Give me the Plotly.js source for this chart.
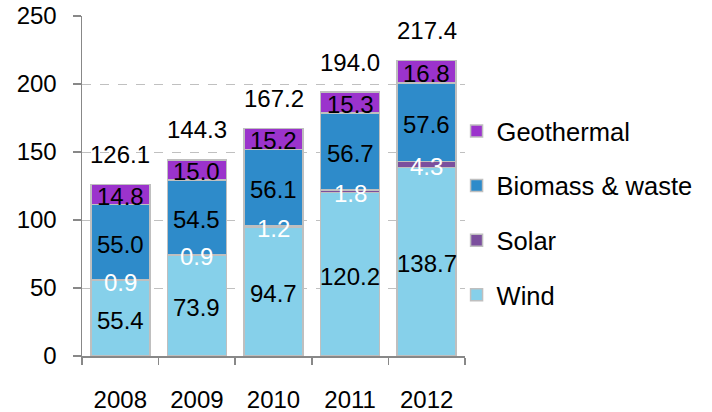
<!DOCTYPE html>
<html>
<head>
<meta charset="utf-8">
<script src="https://cdn.plot.ly/plotly-3.0.1.min.js"></script>
<style>html,body{margin:0;padding:0;background:#fff;}#chart{width:712px;height:412px;}</style>
</head>
<body>
<div id="chart"></div>
<script>
const years = ['2008', '2009', '2010', '2011', '2012'];
const wind = [55.4, 73.9, 94.7, 120.2, 138.7];
const solar = [0.9, 0.9, 1.2, 1.8, 4.3];
const biomass = [55.0, 54.5, 56.1, 56.7, 57.6];
const geothermal = [14.8, 15.0, 15.2, 15.3, 16.8];
const totals = [126.1, 144.3, 167.2, 194.0, 217.4];

const FONT = 'Liberation Sans, Arial, sans-serif';
const border = {color: '#BFBFBF', width: 1.5};

const seriesList = [
  {name: 'Wind', values: wind, color: '#86D0EA', label: '#000000'},
  {name: 'Solar', values: solar, color: '#7B4F9D', label: '#FFFFFF'},
  {name: 'Biomass & waste', values: biomass, color: '#2E8BCA', label: '#000000'},
  {name: 'Geothermal', values: geothermal, color: '#9B33CC', label: '#000000'}
];

const traces = seriesList.map((s, i) => ({
  type: 'bar',
  name: s.name,
  x: years,
  y: s.values,
  marker: {color: s.color, line: border},
  legendgroup: 'g' + i,
  legendrank: 1000 - i,
  hoverinfo: 'skip'
}));

const annotations = [];
const base = years.map(() => 0);
seriesList.forEach(s => {
  s.values.forEach((v, j) => {
    annotations.push({
      x: j, y: base[j] + v / 2, xref: 'x', yref: 'y',
      text: v.toFixed(1), showarrow: false, yshift: -2,
      font: {family: FONT, size: 24, color: s.label}
    });
    base[j] += v;
  });
});
totals.forEach((t, j) => {
  annotations.push({
    x: j, y: t, xref: 'x', yref: 'y',
    text: t.toFixed(1), showarrow: false, yshift: 30,
    font: {family: FONT, size: 24, color: '#000000'}
  });
});

const layout = {
  width: 712, height: 412,
  margin: {l: 82, r: 247, t: 16, b: 56},
  paper_bgcolor: '#ffffff', plot_bgcolor: '#ffffff',
  barmode: 'stack', bargap: 0.23,
  font: {family: FONT, size: 24, color: '#000000'},
  showlegend: true,
  legend: {
    x: 0.978, xanchor: 'left', y: 0.73, yanchor: 'top',
    traceorder: 'grouped', tracegroupgap: 18.5,
    font: {family: FONT, size: 25.5, color: '#000000'},
    bgcolor: 'rgba(0,0,0,0)'
  },
  xaxis: {
    type: 'category', range: [-0.5, years.length - 0.5],
    showline: true, linecolor: '#888888', linewidth: 1.5,
    ticks: 'outside', tickson: 'boundaries', ticklen: 7, tickcolor: '#888888', tickwidth: 1.5,
    ticklabelstandoff: 22, tickangle: 0,
    showgrid: false, zeroline: false
  },
  yaxis: {
    range: [0, 250], dtick: 50,
    showline: true, linecolor: '#888888', linewidth: 1.5,
    ticks: 'outside', ticklen: 8, tickcolor: '#888888', tickwidth: 1.5,
    ticklabelstandoff: 11,
    showgrid: true, gridcolor: '#C0C0C0', griddash: 'dash', gridwidth: 1,
    zeroline: false
  },
  annotations: annotations
};

Plotly.newPlot('chart', traces, layout, {displayModeBar: false, staticPlot: true});
</script>
</body>
</html>
